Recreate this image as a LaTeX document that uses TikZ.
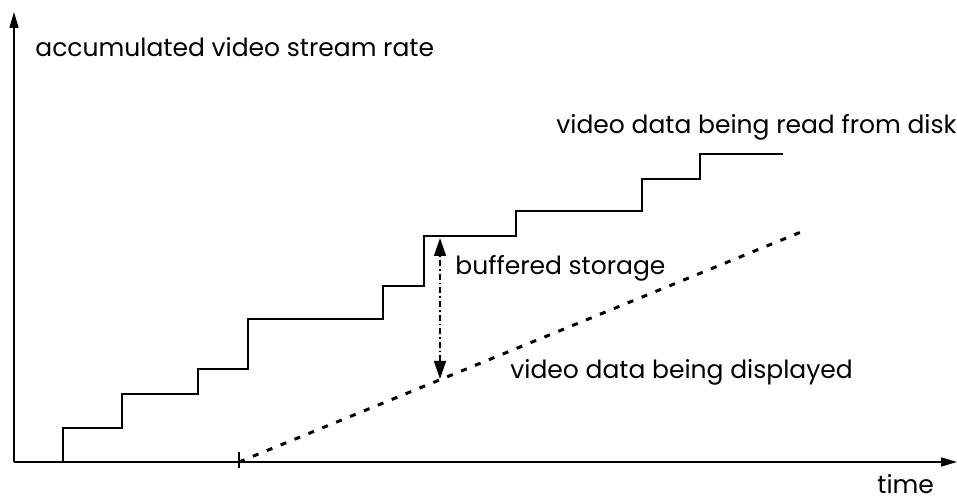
\documentclass[tikz,border=0pt]{standalone}
\usepackage{fontspec}
\setmainfont{Poppins}
\usepackage{tikz}
\usetikzlibrary{arrows.meta, positioning}

\begin{document}
\begin{tikzpicture}[
    x=0.5pt, y=-0.5pt,
    axis/.style={line width=0.75pt, -{Triangle[length=8pt, width=4.5pt]}},
    label/.style={font=\fontsize{12.5}{14}\selectfont, inner sep=0pt, anchor=base west},
    readline/.style={line width=1.1pt, line join=miter},
    showline/.style={line width=1.5pt, dash pattern=on 3pt off 4.5pt},
    bufarrow/.style={line width=0.7pt, dash pattern=on 3pt off 1.5pt on 0.8pt off 1.5pt,
        {Triangle[length=9pt, width=6pt]}-{Triangle[length=9pt, width=6pt]}}
]
    \useasboundingbox (0,0) rectangle (957,501);

    % Achsen
    \coordinate (origin) at (14,462);
    \coordinate (ytip) at (14,12);
    \coordinate (xtip) at (957,462);
    \draw[axis] (origin) -- (ytip);
    \draw[axis] (origin) -- (xtip);

    % Startmarke der Wiedergabe
    \coordinate (start) at (239,462);
    \draw[line width=0.75pt] (239,452) -- (239,468);

    % Treppenkurve: von der Platte gelesene Daten
    \draw[readline] (63,462) |- (122,428) |- (198,394) |- (248,369)
        |- (383,319) |- (424,286) |- (516,236) |- (642,211)
        |- (700,179) |- (783,154);

    % Gerade: angezeigte Daten
    \coordinate (showend) at (801,232);
    \draw[showline] (start) -- (showend);

    % Pufferspeicher
    \coordinate (buftop) at (440,238);
    \coordinate (bufbot) at (440,379);
    \draw[bufarrow] (bufbot) -- (buftop);

    % Beschriftungen
    \node[label] (ylabel) at (35,57) {accumulated video stream rate};
    \node[label] (readlabel) at (556,134) {video data being read from disk};
    \node[label] (buflabel) at (455,275) {buffered storage};
    \node[label] (showlabel) at (510,379) {video data being displayed};
    \node[label] (xlabel) at (877,493) {time};
\end{tikzpicture}
\end{document}
